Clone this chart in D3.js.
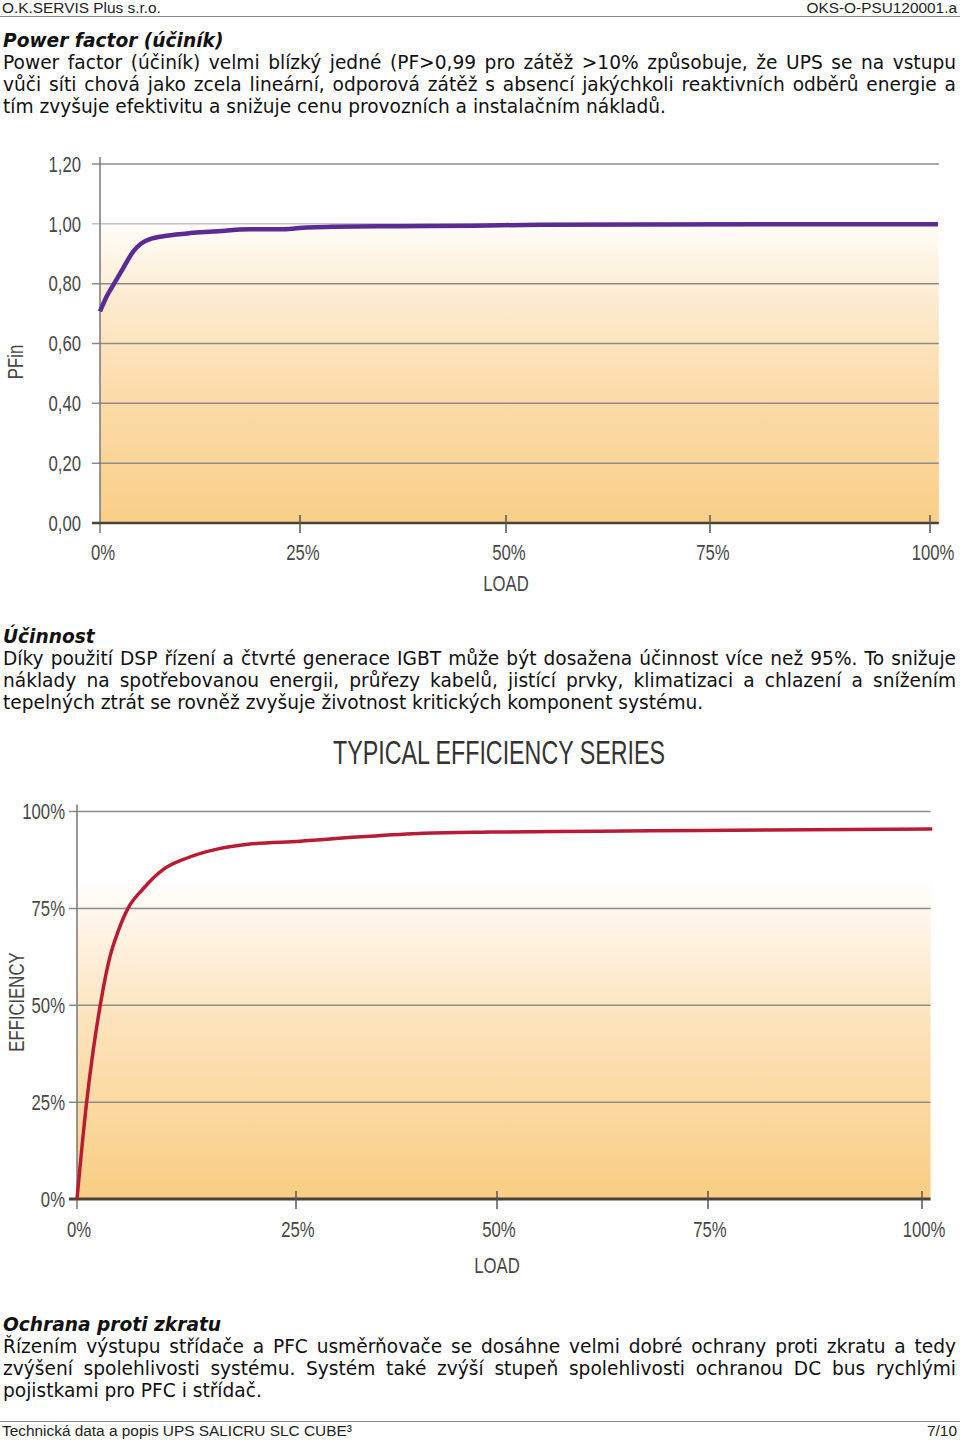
<!DOCTYPE html>
<html>
<head>
<meta charset="utf-8">
<script src="https://cdn.jsdelivr.net/npm/d3@7"></script>
<style>
  html, body { margin:0; padding:0; background:#fff; }
  body { width:960px; height:1442px; position:relative; overflow:hidden; }
  .pg { position:absolute; font-family:"Liberation Sans", Arial, sans-serif; font-size:15.4px; color:#222; }
  .sec { position:absolute; left:3px; width:953px; font-family:"DejaVu Sans", sans-serif; font-size:18.6px; line-height:22px; color:#111; text-align:justify; }
  .sec b { font-style:italic; font-weight:bold; display:block; text-align:left; }
  .rule { position:absolute; left:0; width:960px; height:1px; background:#888; }
  svg { position:absolute; left:0; top:0; }
  .lbl { font-family:"Liberation Sans", Arial, sans-serif; fill:#474747; }
</style>
</head>
<body>
<div class="pg" style="left:2px;top:-1px;">O.K.SERVIS Plus s.r.o.</div>
<div class="pg" style="right:3px;top:-1px;">OKS-O-PSU120001.a</div>
<div class="rule" style="top:16px;"></div>

<div class="sec" style="top:30px;"><b>Power factor (účiník)</b>Power factor (účiník) velmi blízký jedné (PF&gt;0,99 pro zátěž &gt;10% způsobuje, že UPS se na vstupu vůči síti chová jako zcela lineární, odporová zátěž s absencí jakýchkoli reaktivních odběrů energie a tím zvyšuje efektivitu a snižuje cenu provozních a instalačním nákladů.</div>

<div class="sec" style="top:626px;"><b>Účinnost</b>Díky použití DSP řízení a čtvrté generace IGBT může být dosažena účinnost více než 95%. To snižuje náklady na spotřebovanou energii, průřezy kabelů, jistící prvky, klimatizaci a chlazení a snížením tepelných ztrát se rovněž zvyšuje životnost kritických komponent systému.</div>

<div class="sec" style="top:1314px;"><b>Ochrana proti zkratu</b>Řízením výstupu střídače a PFC usměrňovače se dosáhne velmi dobré ochrany proti zkratu a tedy zvýšení spolehlivosti systému. Systém také zvýší stupeň spolehlivosti ochranou DC bus rychlými pojistkami pro PFC i střídač.</div>

<div class="rule" style="top:1421px;"></div>
<div class="pg" style="left:2px;top:1422px;">Technická data a popis UPS SALICRU SLC CUBE³</div>
<div class="pg" style="right:3px;top:1422px;">7/10</div>

<svg id="chart" width="960" height="1442"></svg>

<script>
// ---------- DATA ----------
const pfLoad   = [0, 0.83, 1.67, 2.9, 4.17, 5.2, 6.25, 8.3, 11.25, 14.1, 18.75, 22.9, 25.85, 29, 37.1, 46.1, 54.2, 66.4, 100.9];
const pfValues = [0.707, 0.757, 0.796, 0.852, 0.908, 0.935, 0.949, 0.960, 0.969, 0.974, 0.982, 0.982, 0.988, 0.990, 0.992, 0.994, 0.997, 0.998, 0.999];
const pfYTicks = [0, 0.2, 0.4, 0.6, 0.8, 1.0, 1.2];

const effLoad   = [0, 1.1, 1.86, 2.63, 3.77, 4.68, 5.82, 7.53, 9.82, 12.56, 15.98, 19.75, 25.5, 32.6, 40.9, 49.3, 62.2, 74.1, 101.2];
const effValues = [0, 25, 38.5, 49.7, 62.6, 69, 75, 80, 85, 88, 90.3, 91.6, 92.3, 93.4, 94.4, 94.7, 94.9, 95.1, 95.5];
const effYTicks = [0, 25, 50, 75, 100];

const loadTicks = [0, 25, 50, 75, 100];
const pfAxisTitle = "PFin";
const effAxisTitle = "EFFICIENCY";
const xAxisTitle = "LOAD";
const effChartTitle = "TYPICAL EFFICIENCY SERIES";

// ---------- DRAW ----------
const svg = d3.select("#chart");
const defs = svg.append("defs");
const CONDENSE = 0.76;

function gradient(id, stops) {
  const g = defs.append("linearGradient").attr("id", id)
    .attr("x1", 0).attr("y1", 0).attr("x2", 0).attr("y2", 1);
  stops.forEach(s => g.append("stop").attr("offset", s[0]).attr("stop-color", s[1]));
}
gradient("g1", [[0, "#fffdf9"], [0.25, "#fdebd0"], [0.55, "#fcdcab"], [1, "#f9cf88"]]);
gradient("g2", [[0, "#ffffff"], [0.15, "#fef4e6"], [0.45, "#fde3bb"], [1, "#f9cd83"]]);

function condText(g, x, y, txt, anchor, size, rot) {
  return g.append("text").attr("class", "lbl")
    .attr("transform", `translate(${x},${y})${rot ? " rotate(-90)" : ""} scale(${CONDENSE},1)`)
    .attr("dy", "0.35em").attr("text-anchor", anchor)
    .attr("font-size", size)
    .text(txt);
}

function drawChart(o) {
  const g = svg.append("g");
  const x = d3.scaleLinear().domain(loadTicks).range(o.xRange);
  const y = d3.scaleLinear().domain(o.yDomain).range([o.y0, o.y1]);
  const x0 = x(0);
  const right = x(101);

  // fill
  g.append("rect")
    .attr("x", x0).attr("y", y(o.fillTop))
    .attr("width", right - x0).attr("height", o.y0 - y(o.fillTop))
    .attr("fill", `url(#${o.grad})`);

  // grid lines
  o.yTicks.filter(t => t !== 0).forEach(t => {
    g.append("line")
      .attr("x1", x0 - 8).attr("x2", right)
      .attr("y1", y(t)).attr("y2", y(t))
      .attr("stroke", (o.lightTick === t) ? "#c4c4c4" : "#8c8c8c")
      .attr("stroke-width", 1.5);
  });

  // y tick labels
  o.yTicks.forEach(t => condText(g, x0 - o.yLblGap, y(t), o.yFmt(t), "end", o.tickFont));

  // y axis
  g.append("line")
    .attr("x1", x0).attr("x2", x0)
    .attr("y1", y(o.yDomain[1]) - 7).attr("y2", o.y0 + 10)
    .attr("stroke", "#777").attr("stroke-width", 1.5);

  // x axis
  g.append("line")
    .attr("x1", x0 - 8).attr("x2", right)
    .attr("y1", o.y0).attr("y2", o.y0)
    .attr("stroke", "#4a4237").attr("stroke-width", o.axisW);

  // x ticks
  loadTicks.forEach(t => {
    if (t !== 0) {
      g.append("line")
        .attr("x1", x(t)).attr("x2", x(t))
        .attr("y1", o.y0 - 8).attr("y2", o.y0 + 10)
        .attr("stroke", "#555").attr("stroke-width", 1.5);
    }
    condText(g, x(t) + o.xLblShift, o.y0 + o.xLblDy, t + "%", "middle", o.tickFont);
  });

  // axis titles
  condText(g, x(50), o.y0 + o.xTitleDy, xAxisTitle, "middle", o.titleFont);
  condText(g, o.yTitleX, o.yTitleY, o.yTitle, "middle", o.titleFont, true);

  // line
  const line = d3.line()
    .x((d, i) => x(o.load[i]))
    .y(d => y(d))
    .curve(d3.curveMonotoneX);
  g.append("path").datum(o.values)
    .attr("d", line)
    .attr("fill", "none")
    .attr("stroke", o.color)
    .attr("stroke-width", o.lineW)
    .attr("stroke-linejoin", "round");
}

drawChart({
  xRange: [100, 300, 506, 710, 930], y0: 523, y1: 164, yDomain: [0, 1.2], fillTop: 1.0,
  yTicks: pfYTicks, yFmt: d => d3.format(".2f")(d).replace(".", ","), yLblGap: 19,
  lightTick: 1.0, grad: "g1", axisW: 2.5, tickFont: 22, titleFont: 22,
  xLblShift: 3, xLblDy: 29, xTitleDy: 60, yTitle: pfAxisTitle, yTitleX: 15, yTitleY: 362,
  load: pfLoad, values: pfValues, color: "#5b2a92", lineW: 4.5
});

drawChart({
  xRange: [77, 296, 497, 708, 922], y0: 1199, y1: 811.5, yDomain: [0, 100], fillTop: 83,
  yTicks: effYTicks, yFmt: d => d + "%", yLblGap: 12,
  lightTick: null, grad: "g2", axisW: 3, tickFont: 22, titleFont: 22,
  xLblShift: 2, xLblDy: 30, xTitleDy: 66, yTitle: effAxisTitle, yTitleX: 16, yTitleY: 1002,
  load: effLoad, values: effValues, color: "#b81c34", lineW: 3.5
});

// efficiency chart title
svg.append("text").attr("class", "lbl")
  .attr("x", 499).attr("y", 752).attr("dy", "0.35em")
  .attr("text-anchor", "middle")
  .attr("font-size", 34)
  .attr("textLength", 332).attr("lengthAdjust", "spacingAndGlyphs")
  .style("fill", "#333")
  .text(effChartTitle);
</script>
</body>
</html>
